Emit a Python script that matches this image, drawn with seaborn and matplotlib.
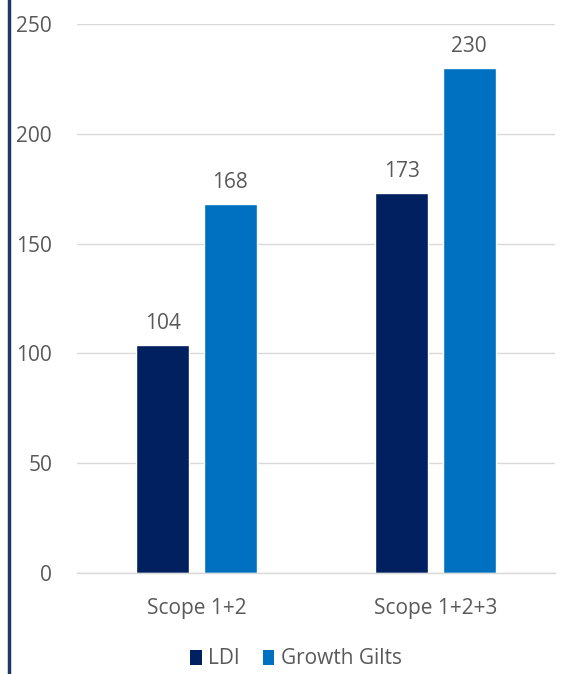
import matplotlib
matplotlib.use("Agg")
import matplotlib.pyplot as plt
from matplotlib.lines import Line2D
from matplotlib.patches import Patch
import seaborn as sns
import pandas as pd

categories = ["Scope 1+2", "Scope 1+2+3"]
series_names = ["LDI", "Growth Gilts"]
ldi_values = [104, 173]
gilts_values = [168, 230]
y_ticks = [0, 50, 100, 150, 200, 250]

colors = {"LDI": "#002060", "Growth Gilts": "#0070C0"}
text_color = "#595959"
fs = 15

sns.set_theme(style="white")
plt.rcParams["font.family"] = ["Open Sans", "DejaVu Sans"]

df = pd.DataFrame({
    "category": categories * 2,
    "series": [series_names[0]] * 2 + [series_names[1]] * 2,
    "value": ldi_values + gilts_values,
})

fig = plt.figure(figsize=(5.61, 6.74), dpi=100)
ax = fig.add_axes([77 / 561, 101 / 674, (555 - 77) / 561, (573 - 24) / 674])

sns.barplot(data=df, x="category", y="value", hue="series", order=categories,
            hue_order=series_names, palette=colors, width=0.564, gap=0.21,
            saturation=1, ax=ax, legend=False, errorbar=None)

ax.set_xlim(-0.5, 1.5)
ax.set_ylim(0, 250)
ax.set_yticks(y_ticks)
ax.set_xlabel("")
ax.set_ylabel("")
ax.yaxis.grid(True, color="#D9D9D9", linewidth=1)
ax.set_axisbelow(True)
for side in ["top", "right", "left"]:
    ax.spines[side].set_visible(False)
ax.spines["bottom"].set_color("#D9D9D9")
ax.spines["bottom"].set_linewidth(1)
ax.tick_params(axis="y", length=0, pad=18, labelsize=fs, labelcolor=text_color)
ax.tick_params(axis="x", length=0, pad=18, labelsize=fs, labelcolor=text_color)

for container in ax.containers:
    ax.bar_label(container, fmt="%d", padding=8, fontsize=fs, color=text_color)

handles = [Patch(facecolor=colors[s], edgecolor="none", label=s) for s in series_names]
fig.legend(handles=handles, loc="center", bbox_to_anchor=(296 / 561, 15 / 674), ncol=2,
           frameon=False, fontsize=fs, handlelength=0.55, handleheight=0.75,
           handletextpad=0.3, columnspacing=1.1, labelcolor=text_color)

fig.add_artist(Line2D([9 / 561, 9 / 561], [0, 1], transform=fig.transFigure,
                      color="#1F3864", linewidth=2.5))

fig.savefig("out.png", dpi=100, facecolor="white")
